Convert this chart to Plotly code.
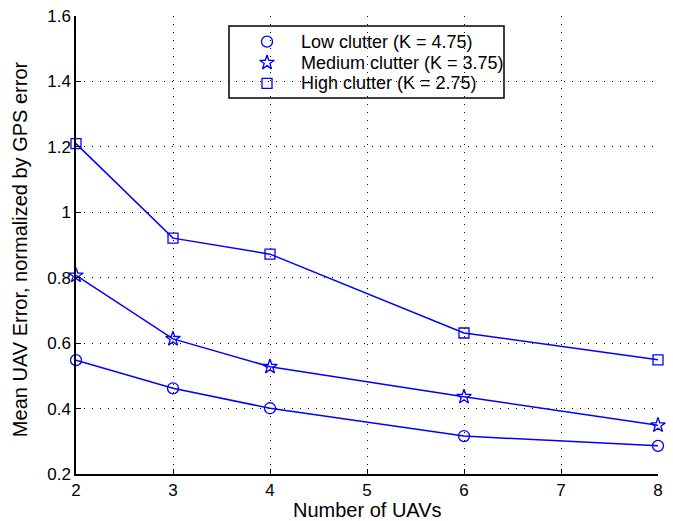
import plotly.graph_objects as go

num_uavs = [2, 3, 4, 6, 8]
low_clutter = [0.548, 0.462, 0.401, 0.316, 0.286]
medium_clutter = [0.807, 0.613, 0.528, 0.436, 0.349]
high_clutter = [1.210, 0.921, 0.872, 0.631, 0.549]

names = ["Low clutter (K = 4.75)", "Medium clutter (K = 3.75)", "High clutter (K = 2.75)"]
series = [low_clutter, medium_clutter, high_clutter]
symbols = ["circle-open", "star-open", "square-open"]
sizes = [11, 11, 10]

x_ticks = [2, 3, 4, 5, 6, 7, 8]
y_ticks = [0.2, 0.4, 0.6, 0.8, 1.0, 1.2, 1.4, 1.6]
y_tick_text = ["0.2", "0.4", "0.6", "0.8", "1", "1.2", "1.4", "1.6"]

# legend layout (fractions of the plot area)
leg_box = dict(x0=0.2629, x1=0.7354, y0=0.8210, y1=0.9782)
leg_marker_x = 0.3282
leg_text_x = 0.3832
leg_rows_y = [0.9439, 0.8981, 0.8531]

blue = "#0000ff"
fig = go.Figure()
for name, vals, sym, sz in zip(names, series, symbols, sizes):
    fig.add_trace(go.Scatter(
        x=num_uavs, y=vals, mode="lines+markers", name=name, showlegend=False,
        line=dict(color=blue, width=1.5),
        marker=dict(symbol=sym, size=sz, color=blue, line=dict(color=blue, width=1.3)),
        cliponaxis=False,
    ))

# legend box
fig.add_shape(type="rect", xref="paper", yref="paper", **leg_box,
              line=dict(color="black", width=1.5), fillcolor="white", layer="between")
# legend markers on an overlay axis spanning the plot area
for name, sym, sz, yy in zip(names, symbols, sizes, leg_rows_y):
    fig.add_trace(go.Scatter(
        x=[leg_marker_x], y=[yy], mode="markers", showlegend=False, hoverinfo="skip",
        xaxis="x2", yaxis="y2", cliponaxis=False,
        marker=dict(symbol=sym, size=sz, color=blue, line=dict(color=blue, width=1.3)),
    ))
    fig.add_annotation(x=leg_text_x, y=yy, xref="paper", yref="paper", text=name,
                       showarrow=False, xanchor="left", yanchor="middle",
                       font=dict(size=18, color="black"))

font_family = "Liberation Sans, Arial, Helvetica, sans-serif"
fig.update_layout(
    width=673, height=521,
    margin=dict(l=76, r=15, t=16, b=47),
    paper_bgcolor="white", plot_bgcolor="white",
    font=dict(family=font_family, size=17, color="black"),
    showlegend=False,
    xaxis2=dict(overlaying="x", range=[0, 1], visible=False, fixedrange=True),
    yaxis2=dict(overlaying="y", range=[0, 1], visible=False, fixedrange=True),
)
fig.update_layout(
    xaxis=dict(
        range=[2, 8], tickvals=x_ticks, ticktext=[str(v) for v in x_ticks],
        showline=True, linecolor="black", linewidth=1.5, mirror=False,
        ticks="inside", ticklen=5, tickcolor="black", tickwidth=1,
        showgrid=True, gridcolor="black", gridwidth=1, griddash="1px,7px",
        zeroline=False, automargin=False, tickfont=dict(size=17),
    ),
    yaxis=dict(
        range=[0.2, 1.6], tickvals=y_ticks, ticktext=y_tick_text,
        showline=True, linecolor="black", linewidth=1.5, mirror=False,
        ticks="inside", ticklen=5, tickcolor="black", tickwidth=1,
        showgrid=True, gridcolor="black", gridwidth=1, griddash="1px,7px",
        zeroline=False, automargin=False, tickfont=dict(size=17),
    ),
)
# axis titles
fig.add_annotation(x=0.5, y=-0.0785, xref="paper", yref="paper", text="Number of UAVs",
                   showarrow=False, xanchor="center", yanchor="middle",
                   font=dict(size=20, color="black"))
fig.add_annotation(x=-0.0962, y=0.491, xref="paper", yref="paper",
                   text="Mean UAV Error, normalized by GPS error", textangle=-90,
                   showarrow=False, xanchor="center", yanchor="middle",
                   font=dict(size=20, color="black"))
fig.write_html(
    "out.html",
    config={"displayModeBar": False},
    post_script="document.body.style.margin='0';document.body.style.overflow='hidden';",
)
